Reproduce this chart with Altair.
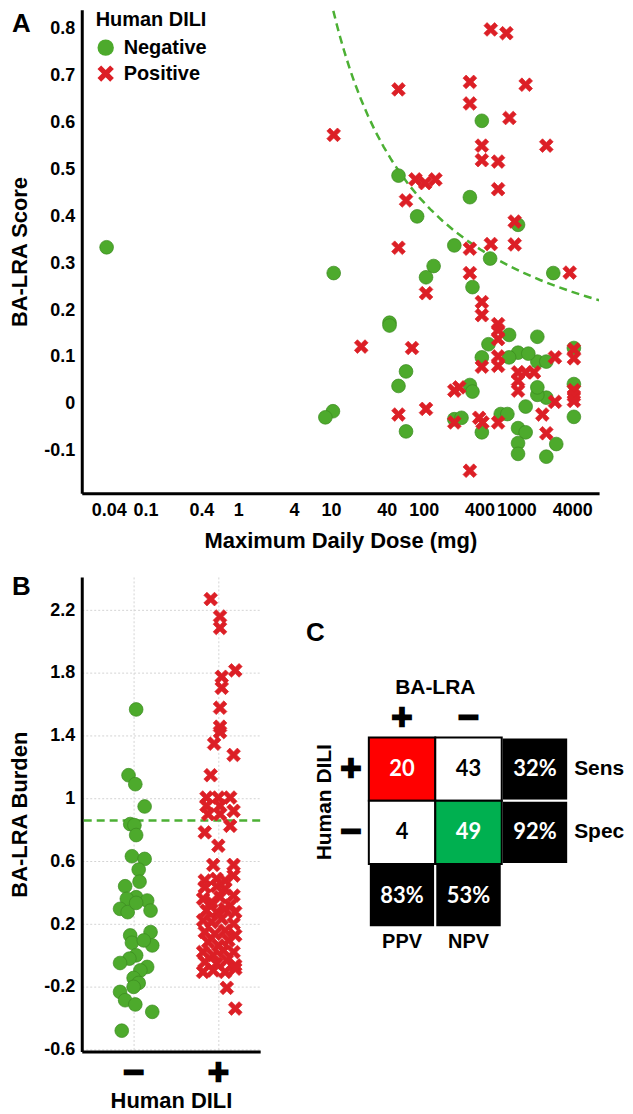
import altair as alt
import pandas as pd

FONT = "Liberation Sans"
GREEN = "#4DAA2C"
GREEN_EDGE = "#3B8A20"
RED = "#DC1F26"
CURVE_GREEN = "#4CB034"
X_PATH = ("M -1 -0.55 L -0.55 -1 L 0 -0.45 L 0.55 -1 L 1 -0.55 L 0.45 0 "
          "L 1 0.55 L 0.55 1 L 0 0.45 L -0.55 1 L -1 0.55 L -0.45 0 Z")

# ---------------- Panel A data ----------------
neg_dose = [0.038, 10.7, 10.5, 8.7, 42.8, 42.8, 53.5, 85, 64.5, 53.5,
            64.5, 128, 106, 214, 315, 336, 424, 521, 1042, 2500,
            315, 336, 214, 256, 424, 678, 800, 1042, 1259, 1042,
            1042, 2103, 2692, 1259, 2103, 1683, 1683, 4171, 4171, 4171,
            1683, 2103, 1042, 1346, 835, 424, 500, 835, 1683]
neg_score = [0.334, 0.279, -0.016, -0.029, 0.173, 0.167, 0.487, 0.400, 0.069, 0.038,
             -0.059, 0.294, 0.270, 0.338, 0.441, 0.249, 0.604, 0.310, 0.382, 0.279,
             0.040, 0.026, -0.033, -0.030, -0.061, -0.022, -0.022, -0.052, -0.061, -0.084,
             -0.107, -0.113, -0.086, -0.006, 0.013, 0.019, 0.035, 0.042, -0.028, 0.119,
             0.090, 0.090, 0.109, 0.107, 0.099, 0.099, 0.127, 0.147, 0.143]
pos_dose = [530, 780, 53.5, 315, 1259, 315, 841, 424, 2103, 424,
            635, 10.7, 81.5, 104, 134, 635, 64.5, 959, 53.5, 315,
            530, 959, 315, 3760, 106, 424, 424, 635, 635, 635,
            21.2, 74.8, 635, 635, 424, 2606, 4171, 4171, 1042, 1259,
            1550, 1042, 1042, 214, 242, 4171, 4171, 4171, 2606, 1905,
            53.5, 106, 214, 397, 431, 635, 2103, 315]
pos_score = [0.799, 0.791, 0.671, 0.687, 0.681, 0.641, 0.610, 0.551, 0.551, 0.520,
             0.517, 0.574, 0.479, 0.471, 0.479, 0.458, 0.434, 0.389, 0.333, 0.331,
             0.341, 0.340, 0.279, 0.280, 0.236, 0.217, 0.189, 0.170, 0.157, 0.138,
             0.122, 0.119, 0.101, 0.081, 0.079, 0.099, 0.116, 0.097, 0.067, 0.067,
             0.067, 0.049, 0.028, 0.028, 0.035, 0.029, 0.017, 0.006, 0.004, -0.023,
             -0.023, -0.011, -0.040, -0.030, -0.040, -0.040, -0.063, -0.143]
dose_ticks = [0.04, 0.1, 0.4, 1, 4, 10, 40, 100, 400, 1000, 4000]
score_ticks = [-0.1, 0, 0.1, 0.2, 0.3, 0.4, 0.5, 0.6, 0.7, 0.8]
burden_threshold = 0.86
curve_dose = [10.6, 11.5, 12.5, 14, 16, 18, 21, 25, 30, 37, 45, 55, 70, 90, 120,
              160, 220, 300, 420, 600, 850, 1200, 1800, 2700, 4000, 5600, 7800]

# ---------------- Panel B data ----------------
neg_burden = [1.567, 1.148, 1.091, 0.949, 0.837, 0.830, 0.767, 0.632, 0.615, 0.547,
              0.470, 0.441, 0.371, 0.361, 0.350, 0.297, 0.276, 0.335, 0.286, 0.128,
              0.149, 0.064, 0.081, 0.096, 0.001, -0.020, -0.048, -0.073, -0.095, -0.143,
              -0.175, -0.200, -0.232, -0.285, -0.312, -0.359, -0.479]
neg_spread = [0.03, -0.06, 0.02, 0.13, -0.04, 0.01, 0.03, -0.02, 0.13, 0.06,
              0.07, -0.10, 0.03, -0.08, 0.16, -0.16, -0.07, 0.03, 0.20, -0.04,
              0.20, 0.22, -0.02, 0.12, 0.03, -0.05, -0.16, 0.16, 0.08, 0.0,
              0.06, 0.0, -0.16, -0.10, 0.02, 0.22, -0.14]
pos_burden = [2.270, 2.159, 2.086, 1.816, 1.775, 1.705, 1.578, 1.457, 1.423, 1.349,
              1.277, 1.148, 1.006, 1.006, 1.006, 0.953, 0.953, 0.921, 0.900, 0.900,
              0.826, 0.784, 0.699, 0.577, 0.577, 0.477, 0.488, 0.477, 0.509, -0.206,
              -0.338,
              0.435, 0.441, 0.424, 0.382, 0.361, 0.340, 0.371, 0.318, 0.286, 0.276,
              0.297, 0.276, 0.223, 0.213, 0.234, 0.202, 0.149, 0.138, 0.159, 0.128,
              0.086, 0.064, 0.096, 0.022, 0.001, 0.032, 0.022, -0.041, -0.052, -0.031,
              -0.063, -0.105, -0.095, -0.105, -0.084]
pos_spread = [-0.09, 0.02, 0.02, 0.20, 0.04, 0.04, 0.02, 0.02, 0.02, -0.05,
              0.18, -0.09, -0.14, 0.0, 0.14, -0.14, 0.02, 0.18, -0.12, 0.02,
              0.14, -0.16, 0.0, -0.06, 0.18, -0.16, -0.02, 0.08, 0.18, 0.10,
              0.20,
              -0.16, -0.02, 0.08, 0.18, -0.18, -0.08, 0.02, 0.14, -0.14, -0.02,
              0.08, 0.20, -0.18, -0.08, 0.04, 0.18, -0.16, -0.04, 0.08, 0.20,
              -0.12, 0.0, 0.12, -0.18, -0.06, 0.06, 0.18, -0.16, -0.02, 0.10,
              0.20, -0.18, -0.06, 0.08, 0.20]
burden_ticks = [-0.6, -0.2, 0.2, 0.6, 1, 1.4, 1.8, 2.2]
group_signs = ["\u2212", "+"]

# ---------------- Panel C data ----------------
cell_row = [0, 0, 0, 1, 1, 1, 2, 2]
cell_col = [0, 1, 2, 0, 1, 2, 0, 1]
cell_text = ["20", "43", "32%", "4", "49", "92%", "83%", "53%"]
cell_kind = ["TP", "FN", "metric", "FP", "TN", "metric", "metric", "metric"]
kinds = ["TP", "FN", "FP", "TN", "metric"]
kind_fill = ["#FF0000", "#FFFFFF", "#FFFFFF", "#00B050", "#000000"]

dili_levels = ["Negative", "Positive"]
color_scale = alt.Scale(domain=dili_levels, range=[GREEN, RED])
shape_scale = alt.Scale(domain=dili_levels, range=["circle", X_PATH])
stroke_scale = alt.Scale(domain=dili_levels, range=[GREEN_EDGE, RED])

# ================= Panel A =================
dfA = pd.DataFrame({
    "dose": neg_dose + pos_dose,
    "score": neg_score + pos_score,
    "dili": ["Negative"] * len(neg_dose) + ["Positive"] * len(pos_dose),
})
xA_scale = alt.Scale(type="log", domain=[0.0205, 7800], nice=False)
yA_scale = alt.Scale(domain=[-0.191, 0.841], nice=False, zero=False)
xA = alt.X("dose:Q", scale=xA_scale,
           axis=alt.Axis(values=dose_ticks, labelExpr="'' + datum.value",
                         title="Maximum Daily Dose (mg)", grid=False,
                         labelPadding=8, titlePadding=11, labelOverlap=False,
                         labelFlush=False))
yA = alt.Y("score:Q", scale=yA_scale,
           axis=alt.Axis(values=score_ticks, labelExpr="'' + datum.value",
                         title="BA-LRA Score", grid=False,
                         labelPadding=7, titlePadding=12, labelOverlap=False))
legendA = alt.Legend(orient="none", legendX=14, legendY=0, title="Human DILI",
                     titleFontSize=20, labelFontSize=20, titleFont=FONT, labelFont=FONT,
                     titleFontWeight="bold", labelFontWeight="bold",
                     titleColor="black", labelColor="black", symbolSize=270,
                     symbolStrokeWidth=0, titlePadding=8, rowPadding=6, labelOffset=8)

curveA = alt.Chart(pd.DataFrame({"dose": curve_dose})).transform_calculate(
    score=f"{burden_threshold} * LN10 / log(datum.dose)"
).mark_line(color=CURVE_GREEN, strokeDash=[8, 5], strokeWidth=2.5, clip=True).encode(
    x=xA, y=yA)

pointsA = alt.Chart(dfA).mark_point(filled=True, size=190, opacity=1, strokeWidth=0.7).encode(
    x=xA, y=yA,
    color=alt.Color("dili:N", scale=color_scale, legend=legendA, title="Human DILI"),
    shape=alt.Shape("dili:N", scale=shape_scale, legend=legendA, title="Human DILI"),
    stroke=alt.Stroke("dili:N", scale=stroke_scale, legend=None),
)

letterA = alt.Chart(pd.DataFrame({"t": ["A"]})).mark_text(
    font=FONT, fontSize=26, fontWeight="bold", align="left", baseline="top", color="black"
).encode(x=alt.value(-70), y=alt.value(1), text="t:N")

panelA = alt.layer(curveA, pointsA, letterA).properties(width=519, height=485)

# ================= Panel B =================
dfB = pd.DataFrame({
    "burden": neg_burden + pos_burden,
    "spread": neg_spread + pos_spread,
    "group": [0] * len(neg_burden) + [1] * len(pos_burden),
    "dili": ["Negative"] * len(neg_burden) + ["Positive"] * len(pos_burden),
})
xB_scale = alt.Scale(domain=[-0.612, 1.494], nice=False, zero=False)
yB_scale = alt.Scale(domain=[-0.611, 2.411], nice=False, zero=False)
xB = alt.X("xpos:Q", scale=xB_scale,
           axis=alt.Axis(values=[0, 1], labels=False, grid=True, gridColor="#d4d4d4",
                         gridDash=[2, 2], gridWidth=1, title="Human DILI", titlePadding=39))
yB = alt.Y("burden:Q", scale=yB_scale,
           axis=alt.Axis(values=burden_ticks, labelExpr="'' + datum.value", grid=True,
                         gridColor="#d4d4d4", gridDash=[2, 2], gridWidth=1,
                         title="BA-LRA Burden", labelPadding=7, titlePadding=12,
                         labelOverlap=False))

thresholdB = alt.Chart(pd.DataFrame({"burden": [burden_threshold]})).mark_rule(
    color=CURVE_GREEN, strokeDash=[8, 5], strokeWidth=2.5).encode(y=yB)

pointsB = alt.Chart(dfB).transform_calculate(
    xpos="datum.group + datum.spread"
).mark_point(filled=True, size=190, opacity=1, strokeWidth=0.7).encode(
    x=xB, y=yB,
    color=alt.Color("dili:N", scale=color_scale, legend=None),
    shape=alt.Shape("dili:N", scale=shape_scale, legend=None),
    stroke=alt.Stroke("dili:N", scale=stroke_scale, legend=None),
)

signsB = alt.Chart(pd.DataFrame({"xpos": [0, 1], "sign": group_signs})).mark_text(
    font="DejaVu Sans", fontSize=28, fontWeight="bold", color="black",
    stroke="black", strokeWidth=2.5, baseline="middle"
).encode(x=xB, y=alt.value(498), text="sign:N")

letterB = alt.Chart(pd.DataFrame({"t": ["B"]})).mark_text(
    font=FONT, fontSize=26, fontWeight="bold", align="left", baseline="top", color="black"
).encode(x=alt.value(-70), y=alt.value(-3), text="t:N")

panelB = alt.layer(thresholdB, pointsB, signsB, letterB).properties(width=179, height=476)

# ================= Panel C =================
dfC = pd.DataFrame({"row": cell_row, "col": cell_col, "label": cell_text, "kind": cell_kind})
xC_scale = alt.Scale(domain=[0, 3], nice=False, zero=False)
yC_scale = alt.Scale(domain=[-2.535, 4.961], nice=False, zero=False, reverse=True)
fill_scale = alt.Scale(domain=kinds, range=kind_fill)

baseC = alt.Chart(dfC).transform_calculate(
    x0="datum.col", x1="datum.col + 1", y0="datum.row", y1="datum.row + 1",
    xc="datum.col + 0.5", yc="datum.row + 0.5")

rect_enc = dict(
    x=alt.X("x0:Q", scale=xC_scale, axis=None), x2="x1:Q",
    y=alt.Y("y0:Q", scale=yC_scale, axis=None), y2="y1:Q",
    fill=alt.Fill("kind:N", scale=fill_scale, legend=None),
)
metric_rects = baseC.transform_filter("datum.kind == 'metric'").mark_rect(
    stroke="white", strokeWidth=2).encode(**rect_enc)
count_rects = baseC.transform_filter("datum.kind != 'metric'").mark_rect(
    stroke="black", strokeWidth=2).encode(**rect_enc)
cell_labels = baseC.mark_text(font="Lato", fontSize=22, fontWeight="bold").encode(
    x=alt.X("xc:Q", scale=xC_scale, axis=None),
    y=alt.Y("yc:Q", scale=yC_scale, axis=None),
    text="label:N",
    color=alt.condition("datum.kind == 'FN' || datum.kind == 'FP'",
                        alt.value("black"), alt.value("white")),
)


def c_text(label, xd, yd, size, dx=0, dy=0, align="center", heavy=False):
    props = dict(font=("DejaVu Sans" if heavy else FONT), fontSize=size, fontWeight="bold",
                 align=align, baseline="middle", dx=dx, dy=dy, color="black")
    if heavy:
        props.update(stroke="black", strokeWidth=2.5)
    return alt.Chart(pd.DataFrame({"t": [label]})).mark_text(**props).encode(
        x=alt.XDatum(xd, type="quantitative", scale=xC_scale, axis=None),
        y=alt.YDatum(yd, type="quantitative", scale=yC_scale, axis=None),
        text="t:N")


headers = [
    c_text("BA-LRA", 1.0, 0, 21, dy=-50),
    c_text("+", 0.5, 0, 28, dy=-19, heavy=True),
    c_text("\u2212", 1.5, 0, 28, dy=-19, heavy=True),
    c_text("+", 0, 0.5, 28, dx=-18, heavy=True),
    c_text("\u2212", 0, 1.5, 28, dx=-18, heavy=True),
    c_text("Sens", 3, 0.5, 21, dx=6, align="left"),
    c_text("Spec", 3, 1.5, 21, dx=6, align="left"),
    c_text("PPV", 0.5, 3, 20, dy=15),
    c_text("NPV", 1.5, 3, 20, dy=15),
]
humanC = alt.Chart(pd.DataFrame({"t": ["Human DILI"]})).mark_text(
    font=FONT, fontSize=21, fontWeight="bold", angle=270, align="center",
    baseline="middle", color="black"
).encode(x=alt.value(-44), y=alt.value(226), text="t:N")
letterC = alt.Chart(pd.DataFrame({"t": ["C"]})).mark_text(
    font=FONT, fontSize=26, fontWeight="bold", align="left", baseline="middle", color="black"
).encode(x=alt.value(-63), y=alt.value(56), text="t:N")

panelC = alt.layer(metric_rects, count_rects, cell_labels, *headers, humanC, letterC).properties(
    width=200, height=476)

# ================= Assemble =================
bottom = alt.hconcat(panelB, panelC, spacing=109, bounds="flush")
chart = alt.vconcat(panelA, bottom, spacing=84, bounds="flush").properties(
    padding=0
).configure(font=FONT).configure_view(stroke=None).configure_axis(
    labelFont=FONT, titleFont=FONT, labelFontSize=18, titleFontSize=22,
    labelFontWeight="bold", titleFontWeight="bold", labelColor="black", titleColor="black",
    domainColor="black", domainWidth=3, ticks=False, tickSize=0
)

chart.save("out.html", embed_options={"renderer": "svg", "actions": False})
